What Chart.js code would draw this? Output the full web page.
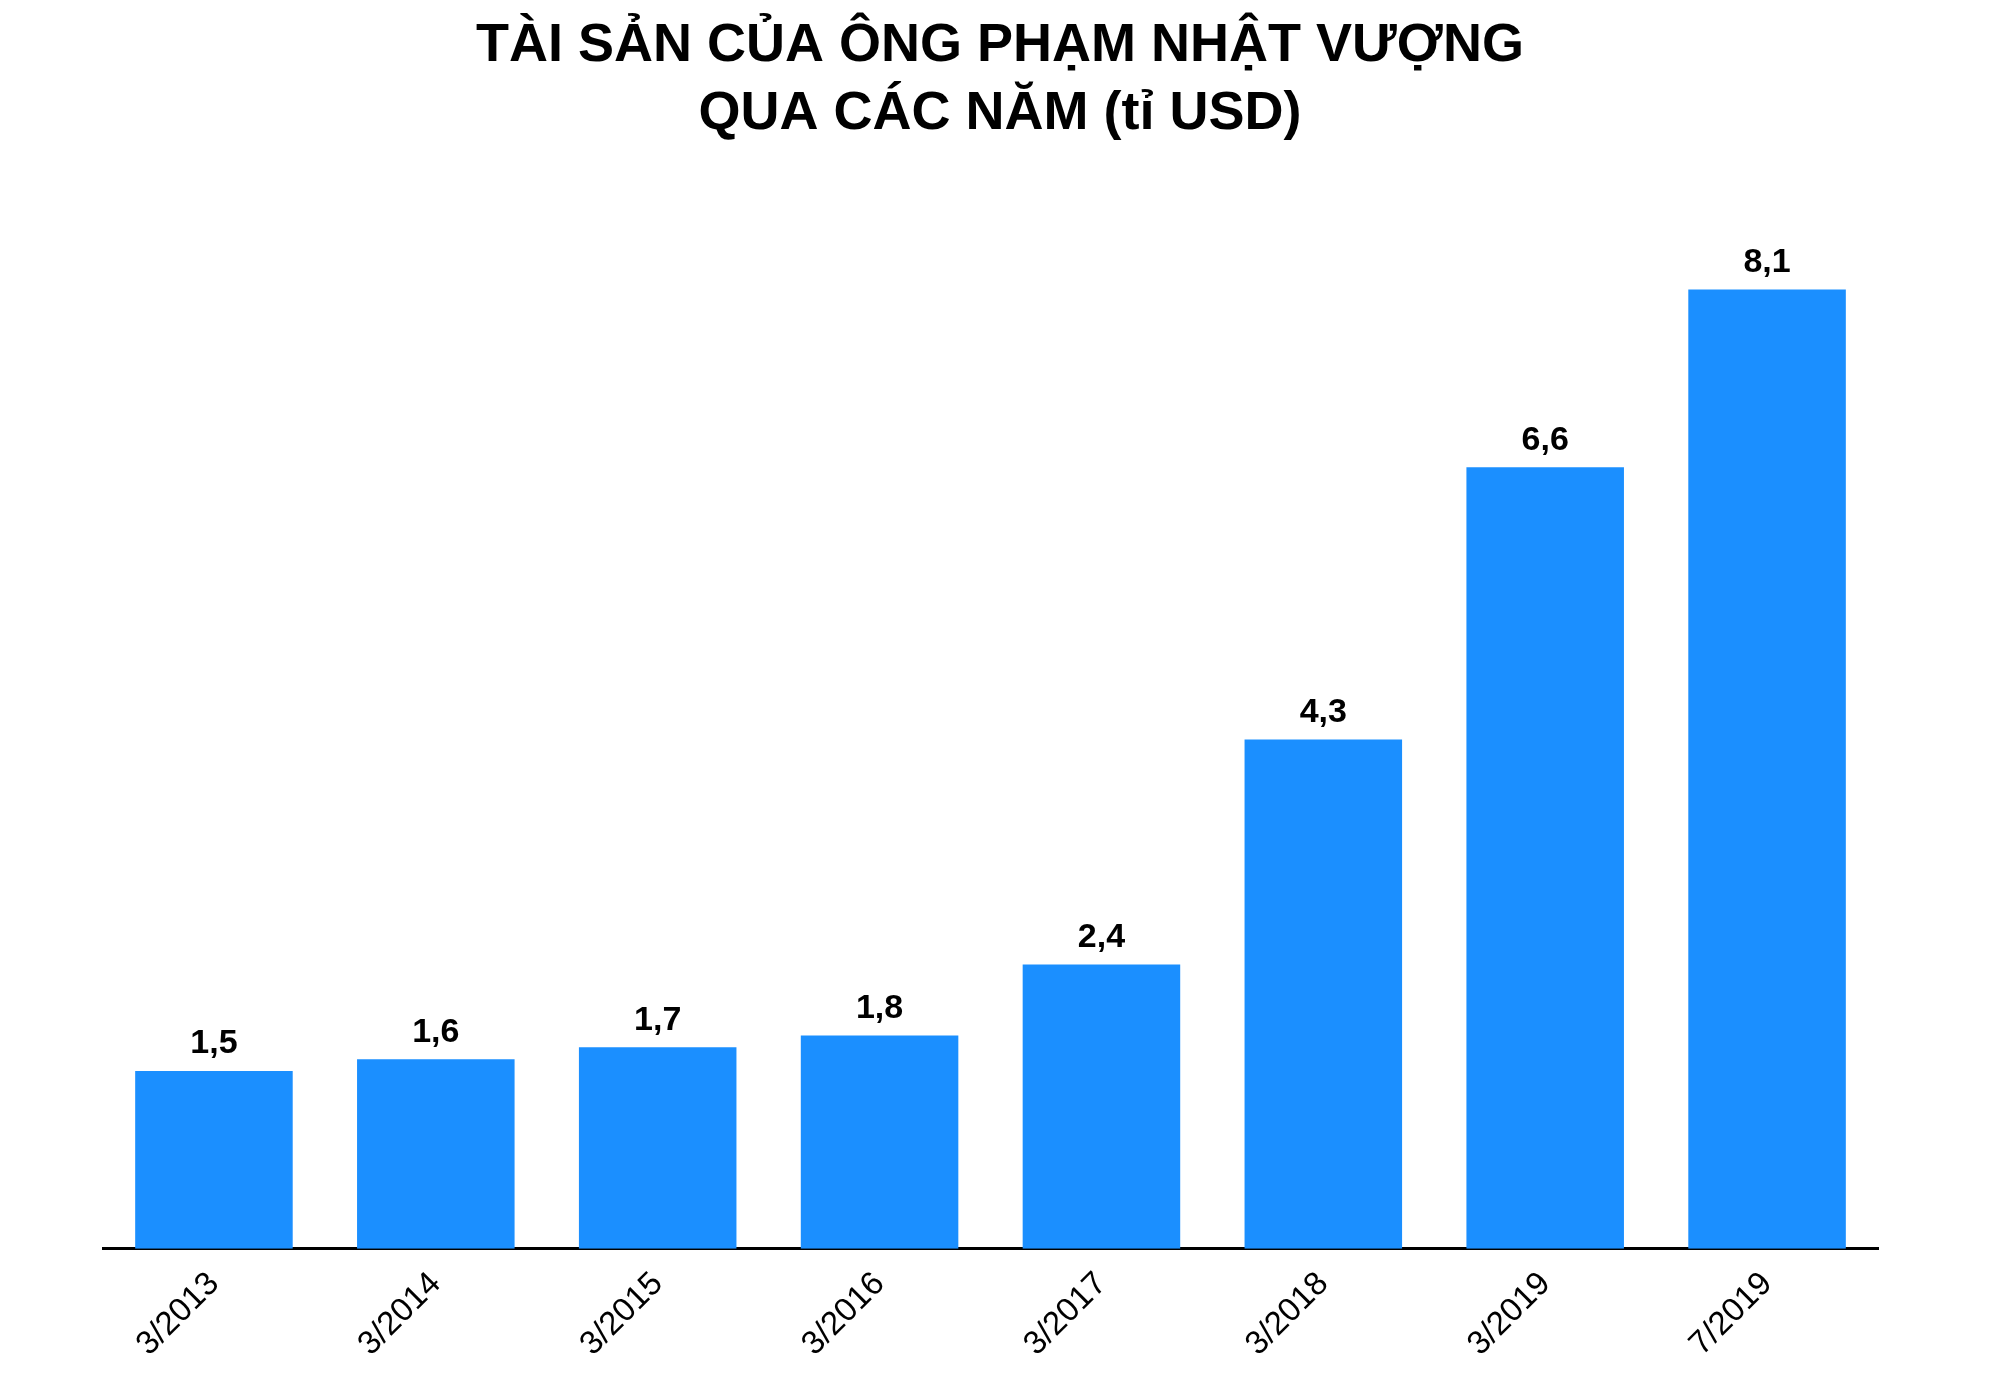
<!DOCTYPE html>
<html><head><meta charset="utf-8">
<script src="https://cdn.jsdelivr.net/npm/chart.js@4"></script>
<style>html,body{margin:0;background:#fff}#wrap{width:2000px;height:1394px}</style>
</head><body><div id="wrap"><canvas id="c"></canvas></div>
<script>
var categories = ['3/2013','3/2014','3/2015','3/2016','3/2017','3/2018','3/2019','7/2019'];
var values = [1.5, 1.6, 1.7, 1.8, 2.4, 4.3, 6.6, 8.1];
var titleLines = ['TÀI SẢN CỦA ÔNG PHẠM NHẬT VƯỢNG', 'QUA CÁC NĂM (tỉ USD)'];

var labelsPlugin = {
    id: 'extras',
    afterDraw: function (chart) {
        var ctx = chart.ctx;
        ctx.save();
        ctx.fillStyle = '#000';
        ctx.textAlign = 'center';
        ctx.font = 'bold 54px "Liberation Sans", Arial, sans-serif';
        ctx.textBaseline = 'middle';
        ctx.fillText(titleLines[0], 1000, 46);
        ctx.fillText(titleLines[1], 1000, 114);
        ctx.font = 'bold 34px "Liberation Sans", Arial, sans-serif';
        ctx.textBaseline = 'bottom';
        chart.getDatasetMeta(0).data.forEach(function (bar, i) {
            ctx.fillText(values[i].toString().replace('.', ','), bar.x, bar.y - 10);
        });
        ctx.restore();
    }
};

new Chart(document.getElementById('c'), {
    type: 'bar',
    data: {
        labels: categories,
        datasets: [{ data: values, backgroundColor: '#1b8fff', barPercentage: 0.71, categoryPercentage: 1 }]
    },
    options: {
        responsive: true,
        maintainAspectRatio: false,
        animation: false,
        layout: { padding: { top: 183, left: 103, right: 122, bottom: 22 } },
        plugins: { legend: { display: false }, tooltip: { enabled: false } },
        scales: {
            y: { display: false, min: 0, max: 9 },
            x: {
                grid: { display: false },
                border: { color: '#000', width: 3 },
                ticks: {
                    color: '#000', maxRotation: 45, minRotation: 45, padding: 8,
                    font: { size: 33, family: '"Liberation Sans", Arial, sans-serif' }
                }
            }
        }
    },
    plugins: [labelsPlugin]
});
</script></body></html>
